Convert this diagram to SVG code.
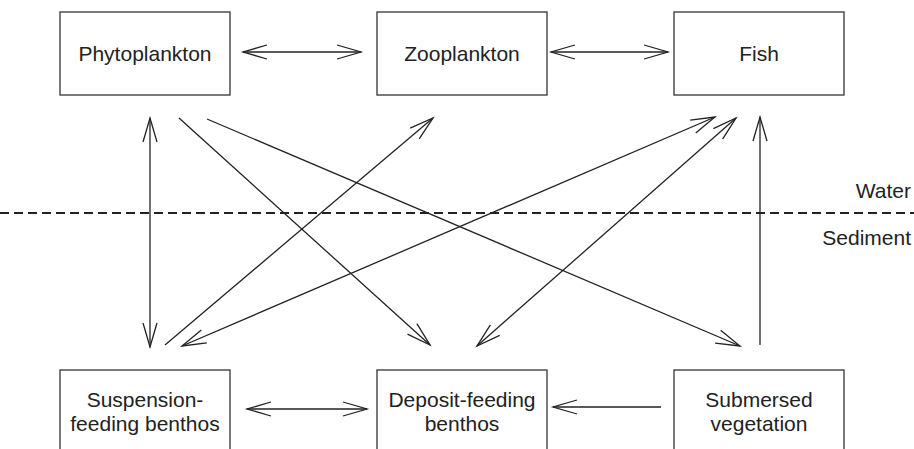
<svg xmlns="http://www.w3.org/2000/svg" width="914" height="449" viewBox="0 0 914 449">
<style>
.box{fill:#fff;stroke:#333;stroke-width:1.3}
.lbl{font-family:"Liberation Sans",Arial,sans-serif;font-size:21px;fill:#222;text-anchor:middle}
.side{font-family:"Liberation Sans",Arial,sans-serif;font-size:21px;fill:#222;text-anchor:end}
.c{fill:none;stroke:#222;stroke-width:1.3}
</style>
<defs>
<marker id="ah" markerUnits="userSpaceOnUse" markerWidth="30" markerHeight="20" viewBox="-26 -10 30 20" refX="0" refY="0" orient="auto-start-reverse">
<path d="M-24,-7 L0,0 L-24,7" fill="none" stroke="#222" stroke-width="1.3"/>
</marker>
</defs>
<rect width="914" height="449" fill="#fff"/>
<g id="phytoplankton"><rect class="box" x="60" y="12" width="170" height="83"/><text class="lbl" x="145" y="61">Phytoplankton</text></g>
<g id="zooplankton"><rect class="box" x="377" y="12" width="170" height="83"/><text class="lbl" x="462" y="61">Zooplankton</text></g>
<g id="fish"><rect class="box" x="674" y="12" width="170" height="83"/><text class="lbl" x="759" y="61">Fish</text></g>
<g id="suspension"><rect class="box" x="60" y="370" width="170" height="90"/><text class="lbl" x="145" y="407">Suspension-</text><text class="lbl" x="145" y="431">feeding benthos</text></g>
<g id="deposit"><rect class="box" x="377" y="370" width="170" height="90"/><text class="lbl" x="462" y="407">Deposit-feeding</text><text class="lbl" x="462" y="431">benthos</text></g>
<g id="submersed"><rect class="box" x="674" y="370" width="170" height="90"/><text class="lbl" x="759" y="407">Submersed</text><text class="lbl" x="759" y="431">vegetation</text></g>
<g id="boundary">
<line x1="0" y1="213" x2="914" y2="213" stroke="#222" stroke-width="2" stroke-dasharray="9,5"/>
<text class="side" x="911" y="198">Water</text>
<text class="side" x="911" y="245">Sediment</text>
</g>
<g id="connectors">
<line class="c" x1="243" y1="52" x2="361" y2="52" marker-start="url(#ah)" marker-end="url(#ah)"/>
<line class="c" x1="551" y1="52" x2="668" y2="52" marker-start="url(#ah)" marker-end="url(#ah)"/>
<line class="c" x1="247" y1="409" x2="367" y2="409" marker-start="url(#ah)" marker-end="url(#ah)"/>
<line class="c" x1="661" y1="407" x2="553" y2="407" marker-end="url(#ah)"/>
<line class="c" x1="150" y1="118" x2="150" y2="347" marker-start="url(#ah)" marker-end="url(#ah)"/>
<line class="c" x1="760" y1="345" x2="760" y2="117" marker-end="url(#ah)"/>
<line class="c" x1="179" y1="118" x2="430" y2="345" marker-end="url(#ah)"/>
<line class="c" x1="207" y1="119" x2="740" y2="346" marker-end="url(#ah)"/>
<line class="c" x1="165" y1="345" x2="433" y2="118" marker-end="url(#ah)"/>
<line class="c" x1="182" y1="346" x2="715" y2="117" marker-start="url(#ah)" marker-end="url(#ah)"/>
<line class="c" x1="477" y1="346" x2="736" y2="118" marker-start="url(#ah)" marker-end="url(#ah)"/>
</g>
</svg>
